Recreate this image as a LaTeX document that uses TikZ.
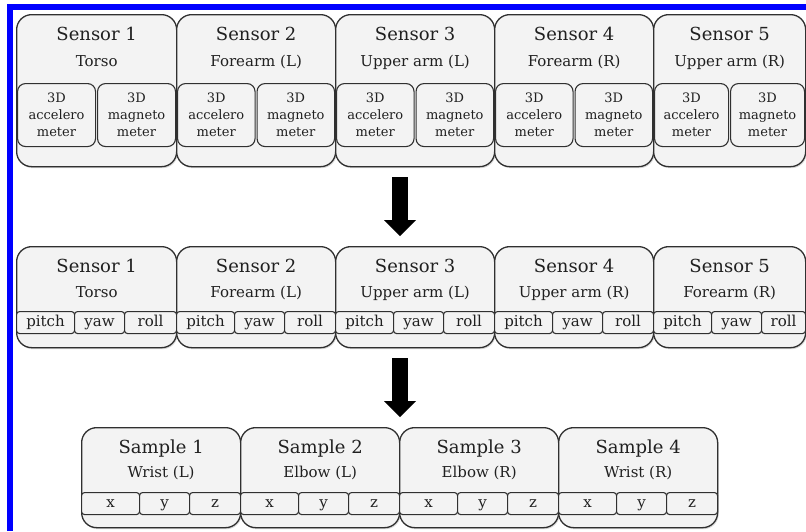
\documentclass[tikz,border=0pt]{standalone}
\usepackage{fontspec}
\setmainfont{DejaVu Serif}
\usepackage{tikz}
\usetikzlibrary{calc}
\usetikzlibrary{shadows}
\usetikzlibrary{arrows.meta}

\definecolor{boxfill}{HTML}{F3F3F3}
\definecolor{boxline}{HTML}{303030}
\definecolor{inktext}{HTML}{202020}

\tikzset{
  bigbox/.style={rectangle, rounded corners=15pt, draw=boxline, fill=boxfill, line width=1.3pt,
    anchor=north west, inner sep=0pt,
    drop shadow={shadow xshift=1pt, shadow yshift=-1.5pt, fill=black!30, opacity=0.5}},
  devbox/.style={rectangle, rounded corners=8pt, draw=boxline, fill=boxfill, line width=1.1pt,
    anchor=north west, inner sep=0pt, minimum height=63pt, align=center, text=inktext,
    font=\fontsize{13}{17}\selectfont},
  axisbox/.style={rectangle, rounded corners=3pt, draw=boxline, fill=boxfill, line width=1.1pt,
    anchor=north west, inner sep=0pt, minimum height=22pt, text height=11pt, text depth=3.5pt,
    text=inktext, font=\fontsize{15}{17}\selectfont},
  titletext/.style={anchor=base, inner sep=0pt, text=inktext, font=\fontsize{18}{22}\selectfont},
  parttext/.style={anchor=base, inner sep=0pt, text=inktext, font=\fontsize{15}{17}\selectfont},
  bigarrow/.style={line width=16pt, -{Triangle[width=32pt, length=16pt, line width=0pt]}}
}

\begin{document}
\begin{tikzpicture}[x=1pt,y=-1pt]
  \useasboundingbox (0,0) rectangle (806,531);
  \draw[blue, line width=6pt] (9.5,531) -- (9.5,7) -- (806,7);

  % raw sensors
  \foreach \n/\l/\w/\part in {1/16/160/Torso, 2/176/159/{Forearm (L)}, 3/335/159/{Upper arm (L)},
                              4/494/159/{Forearm (R)}, 5/653/152/{Upper arm (R)}}{
    \node[bigbox, minimum width=\w, minimum height=152] (raw\n) at (\l,14) {};
    \node[titletext] (raw\n-t) at ($(raw\n.north)+(0,26)$) {Sensor \n};
    \node[parttext] (raw\n-p) at ($(raw\n.north)+(0,52)$) {\part};
    \node[devbox, minimum width={\w/2-2}] (raw\n-acc) at (\l+1,83) {3D\\accelero\\meter};
    \node[devbox, minimum width={\w/2-2}] (raw\n-mag) at (\l+\w/2+1,83) {3D\\magneto\\meter};
  }

  % orientation angles
  \foreach \n/\l/\w/\part in {1/16/160/Torso, 2/176/159/{Forearm (L)}, 3/335/159/{Upper arm (L)},
                              4/494/159/{Upper arm (R)}, 5/653/152/{Forearm (R)}}{
    \node[bigbox, minimum width=\w, minimum height=101] (ang\n) at (\l,246) {};
    \node[titletext] (ang\n-t) at ($(ang\n.north)+(0,26)$) {Sensor \n};
    \node[parttext] (ang\n-p) at ($(ang\n.north)+(0,51)$) {\part};
    \node[axisbox, minimum width=58] (ang\n-pitch) at (\l,311) {pitch};
    \node[axisbox, minimum width=50] (ang\n-yaw) at (\l+58,311) {yaw};
    \node[axisbox, minimum width={\w-108}] (ang\n-roll) at (\l+108,311) {roll};
  }

  % joint samples
  \foreach \n/\l/\part in {1/81/{Wrist (L)}, 2/240/{Elbow (L)}, 3/399/{Elbow (R)}, 4/558/{Wrist (R)}}{
    \node[bigbox, minimum width=159, minimum height=100] (smp\n) at (\l,427) {};
    \node[titletext] (smp\n-t) at ($(smp\n.north)+(0,26)$) {Sample \n};
    \node[parttext] (smp\n-p) at ($(smp\n.north)+(0,50)$) {\part};
    \node[axisbox, minimum width=58] (smp\n-x) at (\l,492) {x};
    \node[axisbox, minimum width=50] (smp\n-y) at (\l+58,492) {y};
    \node[axisbox, minimum width=51] (smp\n-z) at (\l+108,492) {z};
  }

  \coordinate (arr1-s) at (400,177);
  \coordinate (arr1-e) at (400,236);
  \coordinate (arr2-s) at (400,358);
  \coordinate (arr2-e) at (400,417);
  \draw[bigarrow] (arr1-s) -- (arr1-e);
  \draw[bigarrow] (arr2-s) -- (arr2-e);
\end{tikzpicture}
\end{document}
